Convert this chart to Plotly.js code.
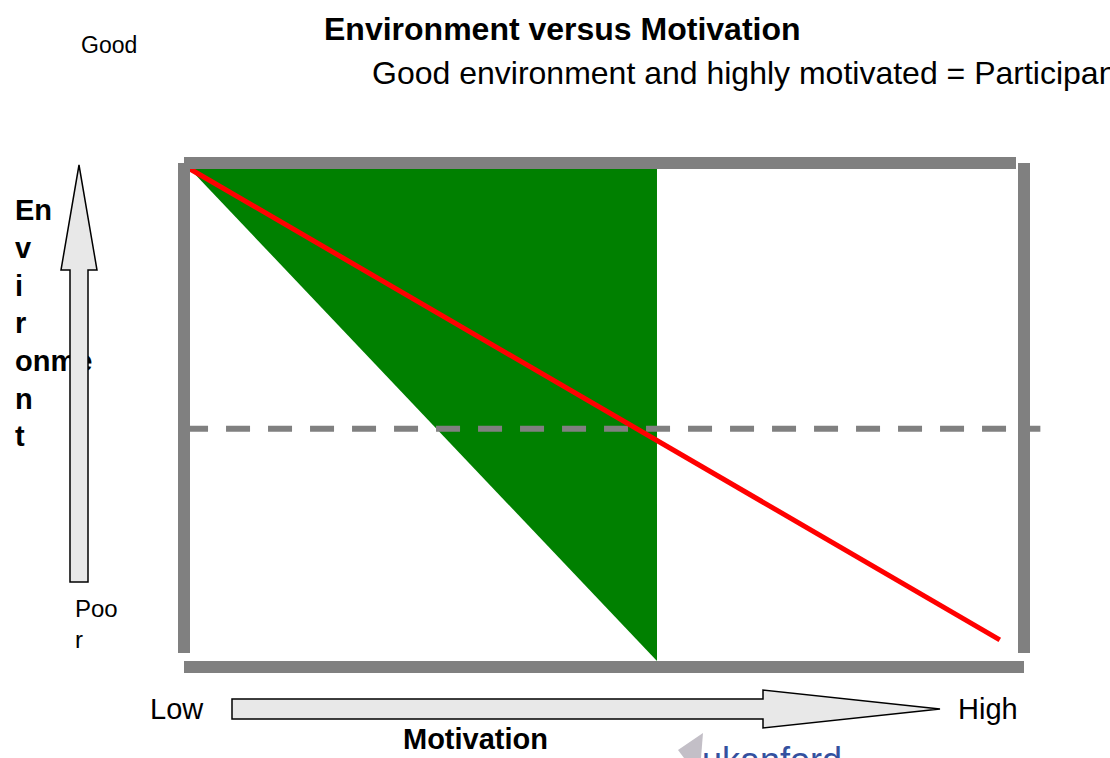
<!DOCTYPE html>
<html>
<head>
<meta charset="utf-8">
<script src="https://cdn.plot.ly/plotly-3.0.1.min.js"></script>
<style>html,body{margin:0;padding:0;background:#fff;}#chart{width:1110px;height:758px;}</style>
</head>
<body>
<div id="chart"></div>
<script>
// ---- Data (motivation on x: 0 = low, 1 = high; environment on y: 0 = poor, 1 = good) ----
const zoneMotivation = [0, 0.564, 0.564];       // green zone
const zoneEnvironment = [1, 1, 0];
const trendMotivation = [0, 0.978];             // red line
const trendEnvironment = [1, 0.043];
const thresholdMotivation = [-0.0072, 1.027];   // dashed mid line
const thresholdEnvironment = [0.472, 0.472];

const titleText = "<b>Environment versus Motivation</b>";
const subtitleText = "Good environment and highly motivated = Participants";
const yLabelText = "<b>En<br>v<br>i<br>r<br>onme<br>n<br>t</b>";
const xLabelText = "<b>Motivation</b>";
const yHighText = "Good";
const yLowText = "Poo<br>r";
const xLowText = "Low";
const xHighText = "High";
const watermarkText = "ukanford";

// ---- Layout helpers: the frame's inner box in page pixels ----
const W = 1110, H = 758;
const BOX = {l: 190, r: 1018, t: 169, b: 661};
const X = px => (px - BOX.l) / (BOX.r - BOX.l);
const Y = py => (BOX.b - py) / (BOX.b - BOX.t);
const FONT = "Liberation Sans, Arial, sans-serif";
const GREY = "#808080";

function bar(x0, y0, x1, y1) {
  return {type: "line", xref: "x", yref: "y", layer: "above",
    x0: X(x0), y0: Y(y0), x1: X(x1), y1: Y(y1),
    line: {color: GREY, width: 12}};
}
function poly(pts, fill, lineColor, lw) {
  const d = "M" + pts.map(p => X(p[0]) + "," + Y(p[1])).join("L") + "Z";
  return {type: "path", xref: "x", yref: "y", layer: "above", path: d,
    fillcolor: fill, line: {color: lineColor, width: lw}};
}
function label(text, px, py, size, xanchor, yanchor, color) {
  return {text: text, x: X(px), y: Y(py), xref: "x", yref: "y",
    xanchor: xanchor, yanchor: yanchor, showarrow: false, align: "left",
    borderpad: 0, font: {family: FONT, size: size, color: color || "#000"}};
}

const traces = [
  {x: zoneMotivation, y: zoneEnvironment, type: "scatter", mode: "lines",
   fill: "toself", fillcolor: "#008000", line: {width: 0, color: "#008000"},
   hoverinfo: "skip", showlegend: false},
  {x: thresholdMotivation, y: thresholdEnvironment, type: "scatter", mode: "lines",
   line: {color: GREY, width: 6, dash: "24px,18px"}, hoverinfo: "skip", showlegend: false},
  {x: trendMotivation, y: trendEnvironment, type: "scatter", mode: "lines",
   line: {color: "#ff0000", width: 5}, hoverinfo: "skip", showlegend: false},
  {x: [X(15)], y: [Y(326)], type: "scatter", mode: "text", text: [yLabelText],
   textposition: "middle right", textfont: {family: FONT, size: 29, color: "#000"},
   hoverinfo: "skip", showlegend: false, cliponaxis: false}
];

const shapes = [
  bar(184, 163, 184, 653),    // left
  bar(184, 163, 1016, 163),   // top
  bar(1024, 163, 1024, 653),  // right
  bar(184, 667, 1024, 667),   // bottom
  poly([[79,165],[97,270],[88,270],[88,582],[70,582],[70,270],[61,270]], "#e8e8e8", "#000", 1.5),
  poly([[232,699],[763,699],[763,690],[940,709],[763,728],[763,719],[232,719]], "#e8e8e8", "#000", 1.5),
  poly([[703,733],[678,750],[684,758],[701,758]], "#c3bfc7", "#c3bfc7", 0)
];

const annotations = [
  label(yHighText, 80, 45, 23, "left", "middle"),
  label(titleText, 562, 29, 32, "center", "middle"),
  label(subtitleText, 371, 73, 32, "left", "middle"),
  label(yLowText, 74, 624, 24, "left", "middle"),
  label(xLowText, 149, 709, 29, "left", "middle"),
  label(xHighText, 957, 709, 29, "left", "middle"),
  label(xLabelText, 475, 739, 29, "center", "middle"),
  label(watermarkText, 701, 739, 36, "left", "top", "#34519f")
];

const layout = {
  width: W, height: H,
  margin: {l: 0, r: 0, t: 0, b: 0, pad: 0},
  paper_bgcolor: "#fff", plot_bgcolor: "#fff",
  xaxis: {range: [X(0), X(W)], visible: false, fixedrange: true},
  yaxis: {range: [Y(H), Y(0)], visible: false, fixedrange: true},
  showlegend: false,
  shapes: shapes,
  annotations: annotations
};

Plotly.newPlot("chart", traces, layout, {displayModeBar: false, staticPlot: true});
</script>
</body>
</html>
